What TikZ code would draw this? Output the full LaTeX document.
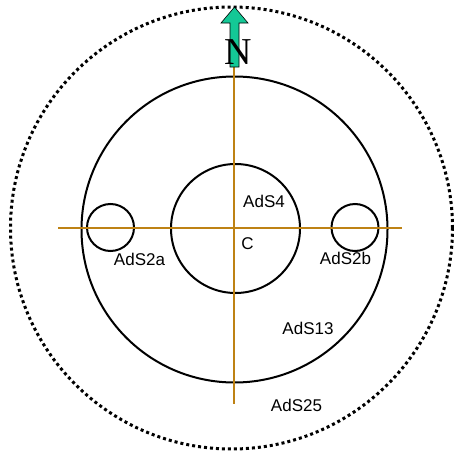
\documentclass[tikz,border=0pt]{standalone}
\usepackage{fontspec}
\setmainfont{Liberation Sans}
\newfontfamily\seriffont{Liberation Serif}
\definecolor{axiscol}{RGB}{190,130,20}
\definecolor{arrowcol}{RGB}{20,200,150}
\begin{document}
\begin{tikzpicture}[x=1pt,y=-1pt,
  ring/.style={draw=black,line width=2pt},
  axis/.style={draw=axiscol,line width=1.2pt},
  lbl/.style={font=\fontsize{17}{17}\selectfont,inner sep=0pt}]
\useasboundingbox (0,0) rectangle (454,455);
% outer dotted circle
\node[circle,minimum size=442pt,inner sep=0pt,draw=black,line width=3pt,dash pattern=on 3pt off 3pt] (outer) at (231.5,228) {};
% main circles
\node[circle,minimum size=306pt,inner sep=0pt,ring] (big) at (234.5,229.5) {};
\node[circle,minimum size=129pt,inner sep=0pt,ring] (inner) at (235.5,228.5) {};
\node[circle,minimum size=47pt,inner sep=0pt,ring] (s2a) at (110.5,227.5) {};
\node[circle,minimum size=47pt,inner sep=0pt,ring] (s2b) at (355,227.5) {};
% axes
\coordinate (hl) at (58,228);
\coordinate (hr) at (402,228);
\coordinate (vt) at (234,40);
\coordinate (vb) at (234,404);
\draw[axis] (hl) -- (hr);
\draw[axis] (vt) -- (vb);
% north arrow
\draw[fill=arrowcol,draw=black,line width=0.6pt]
  (234.5,7) -- (248,23) -- (239,23) -- (239,67) -- (230,67) -- (230,23) -- (221,23) -- cycle;
\node[inner sep=0pt,font=\seriffont\fontsize{38}{38}\selectfont] (N) at (238.5,52) {N};
% labels
\node[lbl] (l4) at (264,201.5) {AdS4};
\node[lbl] (lc) at (247.5,243.5) {C};
\node[lbl] (l2a) at (139.5,259.5) {AdS2a};
\node[lbl] (l2b) at (345.5,258.5) {AdS2b};
\node[lbl] (l13) at (308,328) {AdS13};
\node[lbl] (l25) at (296.5,405) {AdS25};
\end{tikzpicture}
\end{document}
